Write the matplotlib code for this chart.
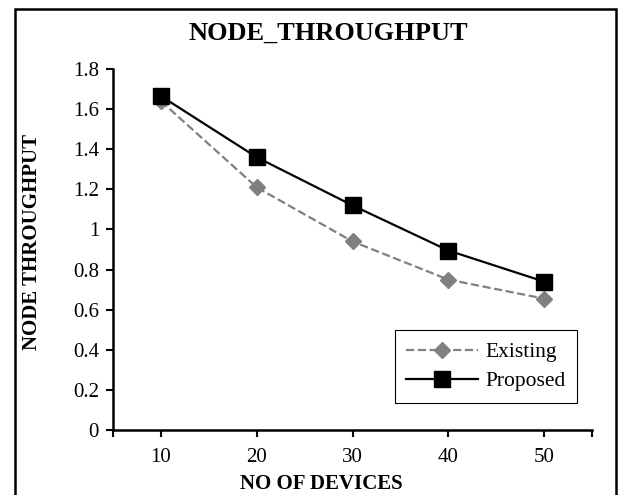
import matplotlib
matplotlib.use("Agg")
from matplotlib import pyplot as plt
from matplotlib.patches import Rectangle

devices = [10, 20, 30, 40, 50]
existing = [1.64, 1.21, 0.94, 0.75, 0.655]
proposed = [1.665, 1.36, 1.12, 0.895, 0.74]
yticks = [0, 0.2, 0.4, 0.6, 0.8, 1, 1.2, 1.4, 1.6, 1.8]
ytick_labels = ['0', '0.2', '0.4', '0.6', '0.8', '1', '1.2', '1.4', '1.6', '1.8']

plt.rcParams['font.family'] = ['Liberation Serif', 'DejaVu Serif']

fig = plt.figure(figsize=(6.26, 4.95), dpi=100)
ax = fig.add_axes([113/626, 1 - 430/495, (592 - 113)/626, (430 - 69)/495])

ax.plot(devices, existing, linestyle='--', color='#808080', linewidth=1.6,
        marker='D', markersize=8, label='Existing')
ax.plot(devices, proposed, linestyle='-', color='black', linewidth=1.6,
        marker='s', markersize=11, label='Proposed')

ax.set_xlim(5, 55)
ax.set_ylim(0, 1.8)
ax.set_xticks(devices)
ax.set_xticks([5, 55], minor=True)
ax.set_yticks(yticks)
ax.set_yticklabels(ytick_labels)
ax.tick_params(axis='both', which='both', direction='out', length=5, width=1.5,
               labelsize=15)
ax.tick_params(axis='x', pad=8)
ax.tick_params(axis='y', pad=5)
ax.spines['top'].set_visible(False)
ax.spines['right'].set_visible(False)
ax.spines['left'].set_linewidth(1.8)
ax.spines['bottom'].set_linewidth(1.8)

fig.text(321/626, 1 - 484/495, 'NO OF DEVICES', ha='center', va='center',
         fontsize=15, fontweight='bold')
fig.text(32/626, 1 - 242/495, 'NODE THROUGHPUT', ha='center', va='center',
         rotation=90, fontsize=15, fontweight='bold')
fig.text(328/626, 1 - 33/495, 'NODE_THROUGHPUT', ha='center', va='center',
         fontsize=19, fontweight='bold')

leg = ax.legend(loc='lower right', bbox_to_anchor=(0.969, 0.075), fontsize=15.5,
                fancybox=False, edgecolor='black', framealpha=1,
                handlelength=3.3, borderpad=0.55, labelspacing=0.4,
                handletextpad=0.35, borderaxespad=0)
leg.get_frame().set_linewidth(0.8)

# outer frame around the chart
fig.patches.append(Rectangle((15/626, -0.02), (616 - 15)/626, 1.02 - 9/495,
                             transform=fig.transFigure, fill=False,
                             edgecolor='black', linewidth=1.8))

fig.savefig('out.png', dpi=100)
